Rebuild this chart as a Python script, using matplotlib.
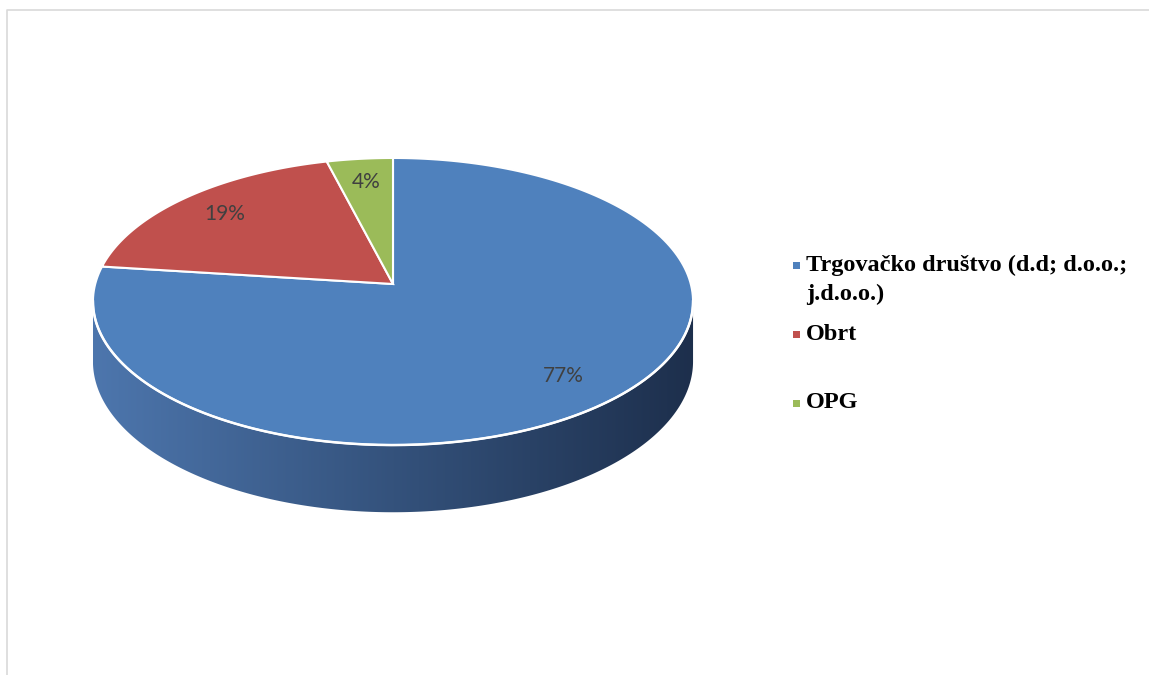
import numpy as np
import matplotlib; matplotlib.use("Agg")
import matplotlib.pyplot as plt
from matplotlib.patches import Polygon
from matplotlib.colors import LinearSegmentedColormap

# data
categories = ["Trgovačko društvo (d.d; d.o.o.;\nj.d.o.o.)", "Obrt", "OPG"]
shares = [77, 19, 4]
pct_labels = ["77%", "19%", "4%"]
colors = ["#4F81BD", "#C0504D", "#9BBB59"]

# pie geometry in pixel space (perspective-projected disc)
CX, CY = 393, 284
RX, RY, K = 297.8, 141.4, 0.122
H = 59.0   # depth of the side wall


def proj(theta, r=1.0, drop=0.0):
    u, v = r * np.cos(theta), r * np.sin(theta)
    d = 1 + K * v
    return CX + RX * u / d, CY - RY * v / d + drop / d


fig = plt.figure(figsize=(11.49, 6.75), dpi=100)
ax = fig.add_axes([0, 0, 1, 1])
ax.set_xlim(0, 1149); ax.set_ylim(675, 0); ax.axis("off")

# outer chart frame (top and left edges visible)
ax.plot([7, 7, 1149], [675, 10, 10], color="#d9d9d9", lw=1.2)

# side wall with horizontal gradient
t0 = np.pi + np.arcsin(K)
t1 = 2 * np.pi - np.arcsin(K)
ts = np.linspace(t0, t1, 300)
tx, ty = proj(ts)
bx, by = proj(ts[::-1], drop=H)
side = Polygon(np.column_stack([np.r_[tx, bx], np.r_[ty, by]]), closed=True,
               fc="none", ec="none")
ax.add_patch(side)
cmap = LinearSegmentedColormap.from_list("side", ["#4d76ad", "#34527c", "#1d2f4c"])
grad = np.linspace(0, 1, 256)[None, :]
im = ax.imshow(grad, cmap=cmap, extent=[tx.min(), tx.max(), by.max() + 2, ty.min() - 2],
               aspect="auto", zorder=1)
im.set_clip_path(side)
ax.set_xlim(0, 1149); ax.set_ylim(675, 0)

# top slices, clockwise from 12 o'clock
start = np.pi / 2
total = sum(shares)
for val, col, lab in zip(shares, colors, pct_labels):
    span = 2 * np.pi * val / total
    th = np.linspace(start, start - span, 200)
    px, py = proj(th)
    ax.add_patch(Polygon(np.column_stack([np.r_[CX, px], np.r_[CY, py]]), closed=True,
                         fc=col, ec="white", lw=1.5, zorder=2, joinstyle="miter"))
    mx, my = proj(start - span / 2, r=0.8)
    ax.text(mx, my, lab, ha="center", va="center", fontsize=15, color="#404040",
            family="Lato", zorder=4)
    start -= span

# white rim line along the front edge
ax.plot(tx, ty, color="white", lw=1.8, zorder=3)

# legend
leg_y = [265, 334, 403]
for col, lab, y in zip(colors, categories, leg_y):
    ax.add_patch(Polygon([[793, y - 3.5], [800, y - 3.5], [800, y + 3.5], [793, y + 3.5]],
                         closed=True, fc=col, ec="none"))
    for i, line in enumerate(lab.split("\n")):
        ax.text(806, y + i * 29, line, ha="left", va="center", fontsize=17.5,
                fontweight="bold", family="Liberation Serif", color="black")

fig.savefig("out.png", dpi=100)
